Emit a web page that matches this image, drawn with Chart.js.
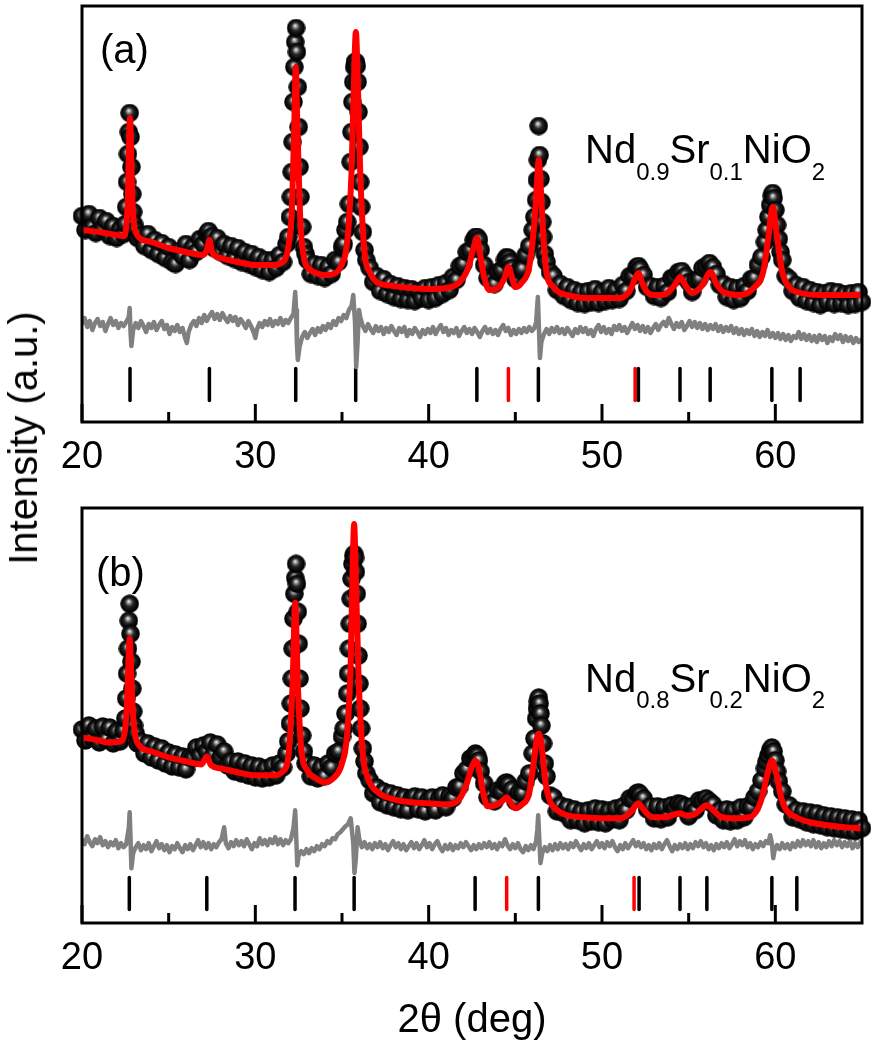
<!DOCTYPE html>
<html><head><meta charset="utf-8">
<script src="https://cdn.jsdelivr.net/npm/chart.js@4.4.1/dist/chart.umd.min.js"></script>
<style>
html,body{margin:0;padding:0;background:#fff;}
body{width:871px;height:1050px;position:relative;overflow:hidden;font-family:'Liberation Sans',Arial,sans-serif;}
#ca{position:absolute;left:0;top:0;}
#cb{position:absolute;left:0;top:480px;}
#ytitle{position:absolute;left:23px;top:438px;transform:translate(-50%,-50%) rotate(-90deg);font-size:40px;line-height:40px;white-space:nowrap;color:#000;}
</style></head><body>
<canvas id="ca" width="871" height="480"></canvas>
<canvas id="cb" width="871" height="570"></canvas>
<div id="ytitle">Intensity (a.u.)</div>
<script>
// ---------- axis ----------
const xMin = 20, xMax = 65, xStep = 10;
const yMin = 0, yMax = 416;
const xTitle = '2θ (deg)';
const panelLabelA = '(a)', panelLabelB = '(b)';
const formulaA = [['Nd',0],['0.9',1],['Sr',0],['0.1',1],['NiO',0],['2',1]];
const formulaB = [['Nd',0],['0.8',1],['Sr',0],['0.2',1],['NiO',0],['2',1]];

// ---------- panel (a) Nd0.9Sr0.1NiO2 ----------
const obsA = [[20,206],[20.2,192],[20.4,208],[20.6,195],[20.8,189],[21,204],[21.2,193],[21.4,201],[21.6,186],[21.8,196],[22,184],[22.2,193],[22.4,188],
[22.5,198],[22.55,215],[22.6,240],[22.65,268],[22.7,290],[22.75,309],[22.8,285],[22.85,255],[22.9,228],[22.95,210],[23,198],[23.1,192],[23.2,184],
[23.4,187],[23.6,176],[23.8,188],[24,172],[24.2,182],[24.4,168],[24.6,179],[24.8,164],[25,175],[25.2,160],[25.4,158],[25.6,171],[25.8,166],[26,178],[26.2,162],[26.4,175],[26.6,170],[26.8,183],[27,178],[27.2,188],[27.3,191],[27.4,184],[27.5,186],[27.6,174],[27.8,184],[28,170],[28.2,178],[28.4,166],[28.6,176],[28.8,163],[29,174],[29.2,160],[29.4,170],[29.6,158],[29.8,168],[30,155],[30.2,165],[30.4,152],[30.6,162],[30.8,150],[31,162],[31.2,154],[31.4,167],[31.6,160],[31.8,178],[31.9,185],
[32,205],[32.05,225],[32.1,250],[32.15,280],[32.2,320],[32.25,355],[32.3,380],[32.35,394],[32.4,370],[32.45,335],[32.5,295],[32.55,255],[32.6,225],[32.7,195],[32.8,175],[32.9,168],
[33,162],[33.2,148],[33.4,158],[33.6,146],[33.8,157],[34,144],[34.2,155],[34.4,148],[34.6,162],[34.8,160],[35,175],[35.1,178],[35.2,192],
[35.3,200],[35.4,218],[35.5,260],[35.55,290],[35.6,320],[35.65,340],[35.7,355],[35.75,360],[35.8,360],[35.85,356],[35.9,340],[35.95,310],[36,275],[36.05,240],[36.1,215],[36.2,190],[36.3,172],[36.4,162],
[36.6,154],[36.8,140],[37,146],[37.2,131],[37.4,143],[37.6,128],[37.8,138],[38,125],[38.2,136],[38.4,123],[38.6,134],[38.8,122],[39,133],[39.2,121],[39.4,131],[39.6,124],[39.8,134],[40,122],[40.2,135],[40.4,124],[40.6,137],[40.8,128],[41,139],[41.2,132],[41.4,145],[41.6,142],[41.8,156],[42,158],[42.2,170],[42.4,172],[42.6,182],[42.7,185],[42.8,185],[42.9,182],[43,172],[43.2,157],[43.4,144],[43.6,142],[43.8,138],[44,150],[44.2,152],[44.4,162],[44.5,165],[44.6,164],[44.7,160],[44.8,154],[45,143],[45.2,152],
[45.4,153],[45.6,167],[45.8,176],[46,192],[46.1,205],[46.2,222],[46.25,242],[46.3,262],[46.35,296],[46.4,267],[46.45,243],[46.5,220],[46.55,200],[46.6,185],[46.7,168],[46.8,160],[47,150],
[47.2,146],[47.4,132],[47.6,138],[47.8,126],[48,135],[48.2,122],[48.4,132],[48.6,119],[48.8,130],[49,118],[49.2,131],[49.4,120],[49.6,133],[49.8,119],[50,130],[50.2,121],[50.4,134],[50.6,122],[50.8,132],[51,123],[51.2,137],[51.4,131],[51.6,146],[51.8,146],[52,155],[52.1,156],[52.2,153],[52.4,147],[52.6,135],[52.8,136],[53,126],[53.2,135],[53.4,124],[53.6,136],[53.8,130],[54,144],[54.2,145],[54.4,150],[54.6,151],[54.8,146],[55,140],[55.2,130],[55.4,142],[55.6,143],[55.8,154],[56,156],[56.2,159],[56.4,155],[56.6,148],[56.8,137],[57,138],[57.2,125],[57.4,135],[57.6,122],[57.8,134],[58,124],[58.2,136],[58.4,131],[58.6,143],[58.8,144],[59,157],[59.2,165],[59.4,180],[59.5,192],[59.6,205],[59.7,217],[59.8,226],[59.85,229],[59.9,224],[60,212],[60.1,197],[60.2,183],[60.3,170],[60.4,162],[60.6,146],[60.8,143],[61,131],[61.2,137],[61.4,124],[61.6,135],[61.8,121],[62,132],[62.2,119],[62.4,130],[62.6,117],[62.8,129],[63,120],[63.2,131],[63.4,118],[63.6,130],[63.8,119],[64,128],[64.2,117],[64.4,129],[64.6,118],[64.8,130],[65,120]];

const calcA = [[20,192],[21,190],[22,187],[22.4,186],[22.55,195],[22.65,225],[22.72,280],[22.77,304],[22.82,280],[22.9,225],[23,198],[23.15,188],[23.4,183],[24,180],[25,174],[26,170],[27,167],[27.2,172],[27.35,182],[27.5,170],[28,164],[29,160],[30,157],[31,157],[31.5,159],[31.9,175],[32.1,210],[32.25,300],[32.33,355],[32.42,300],[32.6,200],[32.8,165],[33.2,152],[33.5,149],[34,147],[34.5,148],[35,158],[35.3,180],[35.55,250],[35.72,360],[35.8,390],[35.88,360],[36.05,250],[36.3,170],[36.6,150],[37,140],[38,136],[39,134],[40,133],[41,134],[41.8,140],[42.3,155],[42.6,175],[42.78,184],[42.95,170],[43.2,145],[43.5,132],[44,134],[44.4,145],[44.6,155],[44.8,145],[45,135],[45.4,140],[45.8,155],[46.1,200],[46.25,240],[46.35,262],[46.45,240],[46.6,190],[46.8,150],[47.2,135],[47.5,130],[48,127],[49,124],[50,124],[51,124],[51.6,131],[51.9,143],[52.1,149],[52.3,140],[52.6,130],[53,127],[53.5,127],[54.2,137],[54.5,145],[54.8,137],[55.2,129],[55.8,137],[56.25,150],[56.6,138],[57,130],[58,127],[58.8,135],[59.3,150],[59.6,185],[59.85,215],[60.1,185],[60.4,150],[60.8,135],[61.5,129],[62.5,127],[63.5,127],[65,127]];

const diffA = [[20,98],[20.15,104],[20.3,95],[20.45,101],[20.6,92],[20.75,99],[20.9,103],[21.05,96],[21.2,100],[21.35,91],[21.5,98],[21.65,104],[21.8,97],[21.95,101],[22.1,94],[22.25,99],[22.4,96],[22.55,100],[22.7,105],[22.75,114],[22.8,90],[22.85,76],[22.95,92],[23.1,99],[23.25,94],[23.4,101],[23.55,96],[23.7,90],[23.85,98],[24,94],[24.15,100],[24.3,92],[24.45,97],[24.6,101],[24.75,93],[24.9,97],[25.05,88],[25.2,95],[25.35,91],[25.5,97],[25.65,90],[25.8,94],[25.95,84],[26.05,79],[26.15,90],[26.3,97],[26.45,101],[26.6,96],[26.75,104],[26.9,99],[27.05,107],[27.2,101],[27.35,106],[27.5,110],[27.65,103],[27.8,108],[27.95,102],[28.1,109],[28.25,104],[28.4,100],[28.55,106],[28.7,101],[28.85,105],[29,97],[29.15,103],[29.3,99],[29.45,94],[29.6,101],[29.75,96],[29.9,90],[30,84],[30.1,93],[30.25,99],[30.4,95],[30.55,101],[30.7,97],[30.85,103],[31,96],[31.15,101],[31.3,98],[31.45,104],[31.6,97],[31.75,102],[31.9,99],[32.05,104],[32.2,108],[32.3,130],[32.35,112],[32.4,78],[32.45,62],[32.55,75],[32.7,85],[32.85,90],[33,84],[33.15,89],[33.3,93],[33.45,87],[33.6,94],[33.75,90],[33.9,96],[34.05,92],[34.2,98],[34.35,94],[34.5,101],[34.65,97],[34.8,104],[34.95,101],[35.1,107],[35.25,104],[35.4,112],[35.55,116],[35.65,127],[35.75,100],[35.82,55],[35.9,80],[35.98,112],[36.05,105],[36.2,96],[36.35,91],[36.5,98],[36.65,93],[36.8,89],[36.95,96],[37.1,91],[37.25,95],[37.4,88],[37.55,94],[37.7,90],[37.85,96],[38,91],[38.15,87],[38.3,94],[38.45,90],[38.6,95],[38.75,86],[38.9,92],[39.05,88],[39.2,94],[39.35,90],[39.5,85],[39.65,92],[39.8,88],[39.95,93],[40.1,89],[40.25,95],[40.4,88],[40.55,93],[40.7,97],[40.85,90],[41,94],[41.15,87],[41.3,92],[41.45,89],[41.6,94],[41.75,86],[41.9,91],[42.05,95],[42.2,89],[42.35,93],[42.5,88],[42.65,94],[42.8,90],[42.95,85],[43.1,91],[43.25,95],[43.4,89],[43.55,93],[43.7,88],[43.85,92],[44,87],[44.15,93],[44.3,97],[44.45,91],[44.6,94],[44.75,87],[44.9,92],[45.05,88],[45.2,93],[45.35,89],[45.5,94],[45.65,90],[45.8,95],[45.95,91],[46.1,94],[46.2,100],[46.3,125],[46.35,100],[46.42,64],[46.5,80],[46.65,88],[46.8,93],[46.95,88],[47.1,94],[47.25,90],[47.4,95],[47.55,89],[47.7,93],[47.85,88],[48,94],[48.15,90],[48.3,86],[48.45,93],[48.6,89],[48.75,95],[48.9,90],[49.05,94],[49.2,88],[49.35,92],[49.5,86],[49.65,93],[49.8,97],[49.95,90],[50.1,95],[50.25,89],[50.4,93],[50.55,88],[50.7,96],[50.85,92],[51,97],[51.15,91],[51.3,95],[51.45,89],[51.6,94],[51.75,99],[51.9,93],[52.05,97],[52.2,91],[52.35,96],[52.5,90],[52.65,95],[52.8,89],[52.95,94],[53.1,98],[53.25,92],[53.4,97],[53.55,100],[53.7,96],[53.85,104],[54,98],[54.15,93],[54.3,99],[54.45,95],[54.6,100],[54.75,92],[54.9,96],[55.05,101],[55.2,95],[55.35,100],[55.5,94],[55.65,99],[55.8,93],[55.95,98],[56.1,92],[56.25,97],[56.4,93],[56.55,98],[56.7,91],[56.85,96],[57,90],[57.15,95],[57.3,91],[57.45,96],[57.6,89],[57.75,94],[57.9,88],[58.05,93],[58.2,87],[58.35,92],[58.5,88],[58.65,93],[58.8,86],[58.95,91],[59.1,85],[59.25,90],[59.4,86],[59.55,92],[59.7,85],[59.85,89],[60,84],[60.15,89],[60.3,83],[60.45,88],[60.6,82],[60.75,87],[60.9,81],[61.05,86],[61.2,84],[61.35,90],[61.5,83],[61.65,88],[61.8,82],[61.95,87],[62.1,81],[62.25,86],[62.4,80],[62.55,87],[62.7,82],[62.85,86],[63,79],[63.15,85],[63.3,81],[63.45,88],[63.6,83],[63.75,87],[63.9,80],[64.05,86],[64.2,81],[64.35,85],[64.5,79],[64.65,84],[64.8,80],[65,83]];

const braggMainA = [22.77, 27.35, 32.33, 35.79, 42.78, 46.33, 52.1, 54.5, 56.24, 59.8, 61.43];
const braggNiA = [44.6, 51.91];
const braggLevelA = 37.5;

// ---------- panel (b) Nd0.8Sr0.2NiO2 ----------
const obsB = [[20,194],[20.2,183],[20.4,198],[20.6,186],[20.8,195],[21,181],[21.2,197],[21.4,184],[21.6,196],[21.8,180],[22,192],[22.2,182],[22.4,193],[22.5,205],[22.55,225],[22.6,250],[22.65,275],[22.7,303],[22.75,320],[22.8,290],[22.85,262],[22.9,235],[22.95,212],[23,198],[23.1,190],[23.2,180],
[23.4,182],[23.6,170],[23.8,180],[24,166],[24.2,177],[24.4,163],[24.6,175],[24.8,160],[25,171],[25.2,157],[25.4,169],[25.6,156],[25.8,167],[26,154],[26.2,166],[26.4,165],[26.6,176],[26.8,168],[27,178],[27.2,172],[27.4,181],[27.6,169],[27.8,179],[28,166],[28.2,172],[28.4,158],[28.6,162],[28.8,152],[29,162],[29.2,150],[29.4,160],[29.6,148],[29.8,158],[30,146],[30.2,157],[30.4,145],[30.6,155],[30.8,146],[31,158],[31.2,148],[31.4,160],[31.6,156],[31.8,170],[31.9,182],
[32,200],[32.05,220],[32.1,245],[32.15,275],[32.2,305],[32.25,330],[32.3,346],[32.35,360],[32.4,340],[32.45,312],[32.5,280],[32.55,245],[32.6,215],[32.7,188],[32.8,172],[32.9,160],
[33,160],[33.2,147],[33.4,158],[33.6,145],[33.8,156],[34,147],[34.2,160],[34.4,156],[34.6,170],[34.8,172],[35,187],[35.1,195],[35.2,210],[35.3,230],[35.35,250],[35.4,275],[35.45,300],[35.5,325],[35.55,345],[35.6,360],[35.65,368],[35.7,370],[35.75,366],[35.8,352],[35.85,330],[35.9,300],[35.95,268],[36,240],[36.05,215],[36.1,195],[36.2,175],[36.3,162],[36.4,150],
[36.6,143],[36.8,130],[37,136],[37.2,121],[37.4,132],[37.6,118],[37.8,130],[38,116],[38.2,128],[38.4,114],[38.6,126],[38.8,113],[39,125],[39.2,127],[39.4,114],[39.6,126],[39.8,112],[40,124],[40.2,126],[40.4,113],[40.6,125],[40.8,128],[41,116],[41.2,127],[41.4,125],[41.6,136],[41.8,137],[42,150],[42.2,154],[42.4,165],[42.6,166],[42.7,170],[42.8,168],[42.9,163],[43,152],[43.2,140],[43.4,126],[43.6,127],[43.8,122],[44,133],[44.2,132],[44.4,140],[44.5,141],[44.6,139],[44.8,134],[45,122],[45.2,131],[45.4,130],[45.6,142],[45.8,150],[46,170],[46.1,185],[46.2,205],[46.25,215],[46.3,222],[46.35,226],[46.4,220],[46.45,210],[46.5,198],[46.6,180],[46.7,160],[46.8,147],[47,128],
[47.2,126],[47.4,112],[47.6,118],[47.8,110],[48,116],[48.2,103],[48.4,114],[48.6,103],[48.8,112],[49,100],[49.2,113],[49.4,102],[49.6,115],[49.8,101],[50,114],[50.2,100],[50.4,113],[50.6,104],[50.8,115],[51,103],[51.2,117],[51.4,113],[51.6,125],[51.8,124],[52,130],[52.1,131],[52.2,129],[52.4,125],[52.6,114],[52.8,117],[53,105],[53.2,117],[53.4,104],[53.6,116],[53.8,106],[54,118],[54.2,115],[54.4,120],[54.6,119],[54.8,117],[55,107],[55.2,117],[55.4,113],[55.6,123],[55.8,122],[56,125],[56.2,122],[56.4,119],[56.6,108],[56.8,113],[57,103],[57.2,114],[57.4,102],[57.6,113],[57.8,103],[58,116],[58.2,106],[58.4,117],[58.6,116],[58.8,126],[59,132],[59.2,143],[59.4,155],[59.5,162],[59.6,168],[59.7,173],[59.8,176],[59.9,172],[60,163],[60.1,152],[60.2,142],[60.4,132],[60.6,119],[60.8,118],[61,106],[61.2,113],[61.4,104],[61.6,112],[61.8,101],[62,111],[62.2,99],[62.4,110],[62.6,98],[62.8,108],[63,96],[63.2,107],[63.4,95],[63.6,106],[63.8,94],[64,105],[64.2,93],[64.4,104],[64.6,92],[64.8,103],[65,95]];

const calcB = [[20,186],[21,183],[21.5,181],[22.2,182],[22.45,190],[22.6,222],[22.7,270],[22.75,285],[22.8,270],[22.9,222],[23.05,190],[23.3,178],[24,172],[25,166],[26,162],[26.9,159],[27.2,167],[27.45,158],[28,155],[29,151],[30,148],[31,148],[31.6,152],[31.95,175],[32.15,240],[32.3,321],[32.45,240],[32.65,175],[33,153],[33.5,145],[34,141],[34.5,145],[35,160],[35.3,190],[35.5,260],[35.62,360],[35.7,400],[35.78,360],[35.95,250],[36.2,170],[36.5,145],[37,132],[38,124],[39,121],[40,120],[41,119],[41.8,125],[42.2,140],[42.5,157],[42.7,163],[42.9,155],[43.15,130],[43.4,117],[44,119],[44.35,124],[44.5,126],[44.7,121],[45,115],[45.4,119],[45.8,130],[46.05,160],[46.25,185],[46.35,190],[46.5,180],[46.75,140],[47,122],[47.5,112],[48,108],[49,106],[50,105],[51,105],[51.6,110],[52,119],[52.1,120],[52.3,116],[52.7,108],[53,106],[53.6,106],[54.2,109],[54.5,110],[54.8,108],[55.2,108],[55.7,114],[56,118],[56.3,115],[56.8,107],[57.5,105],[58.5,106],[59,115],[59.3,130],[59.55,150],[59.8,163],[60.05,150],[60.35,125],[60.6,114],[61.2,106],[62,101],[63,98],[64,96],[65,95]];

const diffB = [[20,84],[20.15,79],[20.3,87],[20.45,81],[20.6,77],[20.75,84],[20.9,80],[21.05,86],[21.2,78],[21.35,82],[21.5,76],[21.65,81],[21.8,78],[21.95,83],[22.1,75],[22.25,80],[22.4,76],[22.55,79],[22.7,95],[22.75,111],[22.8,85],[22.85,55],[22.95,70],[23.1,76],[23.25,80],[23.4,73],[23.55,78],[23.7,74],[23.85,80],[24,72],[24.15,77],[24.3,82],[24.45,75],[24.6,79],[24.75,73],[24.9,78],[25.05,71],[25.2,77],[25.35,74],[25.5,80],[25.65,75],[25.8,71],[25.95,78],[26.1,74],[26.25,79],[26.4,73],[26.55,78],[26.7,83],[26.85,76],[27,81],[27.15,75],[27.3,80],[27.45,74],[27.6,79],[27.75,76],[27.9,81],[28.05,84],[28.2,96],[28.3,80],[28.45,75],[28.6,81],[28.75,77],[28.9,83],[29.05,78],[29.2,82],[29.35,77],[29.5,84],[29.65,79],[29.8,74],[29.95,80],[30.1,77],[30.25,85],[30.4,79],[30.55,83],[30.7,78],[30.85,84],[31,80],[31.15,86],[31.3,79],[31.45,84],[31.6,78],[31.75,83],[31.9,80],[32.05,84],[32.2,95],[32.3,113],[32.35,90],[32.42,58],[32.5,68],[32.65,72],[32.8,69],[32.95,74],[33.1,70],[33.25,75],[33.4,72],[33.55,77],[33.7,74],[33.85,79],[34,77],[34.15,82],[34.3,80],[34.45,85],[34.6,84],[34.75,89],[34.9,91],[35.05,94],[35.2,97],[35.35,99],[35.5,105],[35.65,80],[35.72,50],[35.8,65],[35.9,96],[36,84],[36.15,76],[36.3,81],[36.45,75],[36.6,79],[36.75,74],[36.9,80],[37.05,76],[37.2,81],[37.35,75],[37.5,79],[37.65,73],[37.8,78],[37.95,82],[38.1,76],[38.25,80],[38.4,74],[38.55,79],[38.7,73],[38.85,77],[39,81],[39.15,75],[39.3,80],[39.45,74],[39.6,78],[39.75,83],[39.9,76],[40.05,80],[40.2,74],[40.35,79],[40.5,82],[40.65,76],[40.8,72],[40.95,78],[41.1,74],[41.25,79],[41.4,73],[41.55,78],[41.7,75],[41.85,80],[42,76],[42.15,81],[42.3,77],[42.45,73],[42.6,78],[42.75,74],[42.9,79],[43.05,75],[43.2,80],[43.35,76],[43.5,81],[43.65,75],[43.8,79],[43.95,74],[44.1,80],[44.25,77],[44.4,84],[44.55,78],[44.7,74],[44.85,79],[45,75],[45.15,80],[45.3,74],[45.45,71],[45.6,77],[45.75,73],[45.9,78],[46.05,74],[46.2,82],[46.27,94],[46.32,108],[46.38,85],[46.45,60],[46.55,70],[46.7,76],[46.85,72],[47,78],[47.15,73],[47.3,79],[47.45,74],[47.6,80],[47.75,75],[47.9,79],[48.05,74],[48.2,80],[48.35,76],[48.5,82],[48.65,77],[48.8,73],[48.95,79],[49.1,75],[49.25,80],[49.4,74],[49.55,78],[49.7,82],[49.85,76],[50,80],[50.15,75],[50.3,81],[50.45,77],[50.6,82],[50.75,76],[50.9,72],[51.05,78],[51.2,74],[51.35,80],[51.5,75],[51.65,79],[51.8,83],[51.95,77],[52.1,81],[52.25,76],[52.4,80],[52.55,74],[52.7,78],[52.85,73],[53,79],[53.15,75],[53.3,80],[53.45,74],[53.6,79],[53.75,83],[53.9,77],[54.05,72],[54.2,78],[54.35,74],[54.5,79],[54.65,75],[54.8,80],[54.95,74],[55.1,79],[55.25,75],[55.4,81],[55.55,77],[55.7,82],[55.85,76],[56,80],[56.15,74],[56.3,78],[56.45,73],[56.6,79],[56.75,75],[56.9,80],[57.05,76],[57.2,81],[57.35,75],[57.5,79],[57.65,84],[57.8,77],[57.95,82],[58.1,78],[58.25,83],[58.4,76],[58.55,80],[58.7,74],[58.85,79],[59,76],[59.15,81],[59.3,77],[59.45,82],[59.6,80],[59.7,88],[59.8,80],[59.88,65],[59.95,72],[60.1,78],[60.25,74],[60.4,80],[60.55,75],[60.7,79],[60.85,74],[61,80],[61.15,76],[61.3,82],[61.45,77],[61.6,83],[61.75,78],[61.9,82],[62.05,77],[62.2,83],[62.35,76],[62.5,81],[62.65,75],[62.8,80],[62.95,76],[63.1,82],[63.25,77],[63.4,83],[63.55,78],[63.7,82],[63.85,76],[64,81],[64.15,77],[64.3,82],[64.45,75],[64.6,80],[64.75,76],[64.9,81],[65,78]];

const braggMainB = [22.73, 27.2, 32.29, 35.7, 42.68, 46.33, 52.14, 54.5, 56.05, 59.8, 61.24];
const braggNiB = [44.5, 51.85];
const braggLevelB = 29.5;

// ---------- rendering ----------
const FONT = "'Liberation Sans', Arial, sans-serif";
const toXY = arr => arr.map(p => ({x: p[0], y: p[1]}));
const toTicks = (arr, lvl) => arr.map(v => ({x: v, y: lvl}));

// sphere marker sprite
const SPR = 19;
const sphere = document.createElement('canvas');
sphere.width = SPR; sphere.height = SPR;
(function(){
  const g = sphere.getContext('2d');
  const c = SPR / 2;
  const grad = g.createRadialGradient(c - 1, c - 2.5, 0.3, c, c, c);
  grad.addColorStop(0, '#f2f2f2');
  grad.addColorStop(0.16, '#9a9a9a');
  grad.addColorStop(0.42, '#262626');
  grad.addColorStop(0.8, '#050505');
  grad.addColorStop(1, '#000000');
  g.fillStyle = grad;
  g.beginPath(); g.arc(c, c, c - 0.2, 0, Math.PI * 2); g.fill();
})();

function framePlugin(label, labelPos, formula, fPos) {
  return {
    id: 'frame',
    beforeDatasetDraw(chart, args) { if (args.index >= 3) chart.ctx.lineCap = 'round'; },
    afterDatasetDraw(chart, args) { chart.ctx.lineCap = 'butt'; },
    afterDraw(chart) {
      const ctx = chart.ctx;
      const {left, right, top, bottom} = chart.chartArea;
      const ax = chart.scales.x;
      ctx.save();
      ctx.strokeStyle = '#000';
      ctx.lineWidth = 3;
      ctx.lineCap = 'butt';
      ax.ticks.forEach(t => {
        const px = ax.getPixelForValue(t.value);
        ctx.beginPath(); ctx.moveTo(px, bottom); ctx.lineTo(px, bottom - 18); ctx.stroke();
        const mv = t.value + xStep / 2;
        if (mv < xMax) {
          const pm = ax.getPixelForValue(mv);
          ctx.beginPath(); ctx.moveTo(pm, bottom); ctx.lineTo(pm, bottom - 10); ctx.stroke();
        }
      });
      ctx.strokeRect(left, top, right - left, bottom - top);
      ctx.fillStyle = '#000';
      ctx.textBaseline = 'alphabetic';
      ctx.textAlign = 'left';
      ctx.font = '40px ' + FONT;
      ctx.fillText(label, labelPos[0], labelPos[1]);
      let x = fPos[0];
      formula.forEach(([txt, sub]) => {
        ctx.font = (sub ? '24px ' : '40px ') + FONT;
        ctx.fillText(txt, x, sub ? fPos[2] : fPos[1]);
        x += ctx.measureText(txt).width;
      });
      ctx.restore();
    }
  };
}

function makePanel(id, obs, calc, diff, braggMain, braggNi, lvl, pad, axisH, withTitle, plugin) {
  return new Chart(document.getElementById(id), {
    type: 'scatter',
    data: {
      datasets: [
        {data: toXY(calc), showLine: true, borderColor: '#ff0000', borderWidth: 6, pointRadius: 0, cubicInterpolationMode: 'monotone', fill: false},
        {data: toXY(obs), showLine: false, pointStyle: sphere, pointRadius: 9, pointHoverRadius: 9, clip: false},
        {data: toXY(diff), showLine: true, borderColor: '#808080', borderWidth: 4.5, pointRadius: 0, tension: 0, fill: false, borderJoinStyle: 'round'},
        {data: toTicks(braggMain, lvl), showLine: false, pointStyle: 'line', pointRotation: 90, pointRadius: 16, pointBorderWidth: 3.5, pointBorderColor: '#000', pointBackgroundColor: '#000'},
        {data: toTicks(braggNi, lvl), showLine: false, pointStyle: 'line', pointRotation: 90, pointRadius: 16, pointBorderWidth: 3.5, pointBorderColor: '#ff0000', pointBackgroundColor: '#ff0000'}
      ]
    },
    options: {
      responsive: false,
      animation: false,
      devicePixelRatio: 1,
      events: [],
      layout: {padding: pad, autoPadding: false},
      plugins: {legend: {display: false}, tooltip: {enabled: false}},
      scales: {
        x: {
          type: 'linear', min: xMin, max: xMax,
          grid: {display: false, drawTicks: false},
          border: {display: false},
          ticks: {stepSize: xStep, color: '#000', font: {family: FONT, size: 38}, padding: 13, maxRotation: 0},
          afterBuildTicks: s => { s.ticks = s.ticks.filter(t => t.value % xStep === 0); },
          afterFit: s => { s.height = axisH; },
          title: {display: withTitle, text: xTitle, color: '#000', font: {family: FONT, size: 40}, padding: {top: 0, bottom: 5}}
        },
        y: {display: false, min: yMin, max: yMax}
      }
    },
    plugins: [plugin]
  });
}

makePanel('ca', obsA, calcA, diffA, braggMainA, braggNiA, braggLevelA,
  {left: 82, right: 9, top: 6, bottom: 0}, 58, false,
  framePlugin(panelLabelA, [100, 63], formulaA, [585, 163, 180]));
makePanel('cb', obsB, calcB, diffB, braggMainB, braggNiB, braggLevelB,
  {left: 82, right: 9, top: 28, bottom: 0}, 127, true,
  framePlugin(panelLabelB, [96, 106], formulaB, [585, 212, 228]));
</script>
</body></html>
